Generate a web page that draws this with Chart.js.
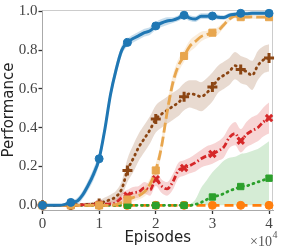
<!DOCTYPE html>
<html>
<head>
<meta charset="utf-8">
<script src="https://cdn.jsdelivr.net/npm/chart.js@4"></script>
<style>
  html, body { margin: 0; padding: 0; background: #fff; }
  #wrap { width: 281px; height: 249px; }
</style>
</head>
<body>
<div id="wrap"><canvas id="myChart" width="281" height="249"></canvas></div>
<script>
// episodes, one sample every 1000
const episodes = [0,1000,2000,3000,4000,5000,6000,7000,8000,9000,10000,11000,12000,13000,14000,15000,16000,17000,18000,19000,20000,
    21000,22000,23000,24000,25000,26000,27000,28000,29000,30000,31000,32000,33000,34000,35000,36000,37000,38000,39000,40000];

const blueMean = [0,0,0,0,0.005,0.015,0.02,0.05,0.10,0.16,0.24,0.39,0.57,0.70,0.80,0.84,0.86,0.875,0.89,0.90,0.925,
    0.94,0.95,0.955,0.965,0.98,0.965,0.96,0.975,0.975,0.976,0.97,0.968,0.98,0.985,0.99,0.988,0.99,0.99,0.99,0.99];
const blueSpread = [0.005,0.005,0.005,0.005,0.008,0.01,0.015,0.02,0.025,0.03,0.03,0.03,0.03,0.03,0.025,0.02,0.02,0.02,0.02,0.02,0.02,
    0.02,0.02,0.015,0.015,0.015,0.015,0.015,0.015,0.015,0.015,0.012,0.012,0.012,0.01,0.01,0.01,0.01,0.01,0.01,0.01];

const orangeMean = [0,0,0,0,0,0,0,0,0,0,0,0,0,0,0,0,0,0,0,0,0,0,0,0,0,0,0,0,0,0,0,0,0,0,0,0,0,0,0,0,0];

const lightMean = [0,0,0,0,0,0,0,0,0,0,0,0,0,0.005,0.015,0.03,0.04,0.05,0.07,0.11,0.18,
    0.30,0.48,0.63,0.72,0.77,0.82,0.845,0.87,0.88,0.89,0.90,0.93,0.96,0.975,0.97,0.97,0.972,0.97,0.97,0.97];
const lightSpread = [0,0,0,0,0,0,0,0,0,0,0,0,0,0.005,0.01,0.015,0.02,0.02,0.025,0.03,0.035,
    0.04,0.04,0.04,0.035,0.03,0.03,0.03,0.025,0.02,0.02,0.02,0.015,0.012,0.01,0.01,0.01,0.01,0.01,0.01,0.01];

const brownMean = [0,0,0,0,0,0.002,0.003,0.004,0.005,0.007,0.01,0.02,0.03,0.045,0.085,0.18,0.24,0.30,0.345,0.39,0.445,
    0.47,0.49,0.51,0.53,0.56,0.575,0.57,0.56,0.58,0.61,0.65,0.67,0.69,0.72,0.70,0.69,0.67,0.72,0.75,0.76];
const brownSpread = [0.003,0.003,0.003,0.003,0.004,0.005,0.006,0.008,0.01,0.012,0.015,0.02,0.025,0.03,0.04,0.06,0.07,0.07,0.07,0.07,0.07,
    0.07,0.07,0.07,0.07,0.07,0.07,0.075,0.075,0.075,0.075,0.07,0.07,0.07,0.07,0.07,0.07,0.075,0.075,0.07,0.07];

const redMean = [0,0,0,0,0,0,0,0.002,0.003,0.004,0.005,0.006,0.008,0.015,0.04,0.05,0.065,0.07,0.09,0.08,0.135,
    0.10,0.085,0.12,0.18,0.193,0.205,0.22,0.24,0.255,0.265,0.28,0.30,0.35,0.37,0.333,0.365,0.385,0.40,0.43,0.45];
const redSpread = [0.002,0.002,0.002,0.002,0.003,0.003,0.004,0.005,0.006,0.008,0.01,0.012,0.015,0.02,0.025,0.03,0.03,0.03,0.03,0.03,0.035,
    0.035,0.035,0.04,0.04,0.04,0.04,0.045,0.045,0.05,0.05,0.05,0.055,0.055,0.06,0.06,0.065,0.07,0.07,0.075,0.08];

const greenMean = [0,0,0,0,0,0,0,0,0,0,0,0,0,0,0,0,0,0,0,0,0,
    0,0,0,0,0,0,0.005,0.015,0.03,0.043,0.05,0.06,0.075,0.085,0.097,0.10,0.11,0.12,0.13,0.14];
const greenUpper = [0,0,0,0,0,0,0,0,0,0,0,0,0,0,0,0,0,0,0,0,0,
    0,0,0,0,0,0.005,0.03,0.09,0.13,0.17,0.20,0.23,0.245,0.25,0.265,0.27,0.28,0.29,0.31,0.33];

const yTicks = [0, 0.2, 0.4, 0.6, 0.8, 1.0];
const xTicks = [0, 10000, 20000, 30000, 40000];

const pts = (arr) => episodes.map((x, i) => ({ x: x, y: arr[i] }));
const markEvery = (r) => (ctx) => (ctx.dataIndex % 5 === 0 ? r : 0);

const mainLine = (label, values, color, dash, pointStyle, radius, opts) => Object.assign({
    label: label,
    data: pts(values),
    borderColor: color,
    backgroundColor: color,
    borderWidth: 2.8,
    borderDash: dash,
    pointStyle: pointStyle,
    pointRadius: markEvery(radius),
    pointBorderWidth: 1,
    pointBorderColor: color,
    pointBackgroundColor: color,
    cubicInterpolationMode: 'monotone',
    fill: false,
    clip: false
}, opts || {});

const band = (lo, hi, fillColor, order) => ([
    { data: pts(lo), borderWidth: 0, pointRadius: 0, fill: false, order: order, cubicInterpolationMode: 'monotone' },
    { data: pts(hi), borderWidth: 0, pointRadius: 0, fill: '-1', backgroundColor: fillColor, order: order, cubicInterpolationMode: 'monotone' }
]);

const lowOf = (m, s) => m.map((v, i) => v - s[i]);
const highOf = (m, s) => m.map((v, i) => v + s[i]);

const frame = {
    id: 'frame',
    beforeDatasetsDraw(chart) {
        const a = chart.chartArea;
        const c = chart.ctx;
        c.save();
        c.strokeStyle = '#cccccc';
        c.lineWidth = 1;
        c.beginPath();
        c.moveTo(a.left, a.top + 0.5);
        c.lineTo(a.right - 0.5, a.top + 0.5);
        c.lineTo(a.right - 0.5, a.bottom);
        c.stroke();
        c.restore();
    },
    afterDraw(chart) {
        const c = chart.ctx;
        c.save();
        c.fillStyle = '#555';
        c.textAlign = 'right';
        c.textBaseline = 'alphabetic';
        c.font = '14px "Liberation Serif"';
        c.fillText('\u00d710', 272, 246);
        c.textAlign = 'left';
        c.font = '10px "Liberation Serif"';
        c.fillText('4', 272.5, 238);
        c.restore();
    }
};

const datasets = [].concat(
    band(lowOf(blueMean, blueSpread), highOf(blueMean, blueSpread), 'rgba(31,119,180,0.25)', 20),
    band(lowOf(lightMean, lightSpread), highOf(lightMean, lightSpread), 'rgba(232,166,78,0.2)', 21),
    band(lowOf(brownMean, brownSpread), highOf(brownMean, brownSpread), 'rgba(139,69,19,0.2)', 22),
    band(lowOf(redMean, redSpread), highOf(redMean, redSpread), 'rgba(214,39,40,0.2)', 23),
    band(greenMean.map(() => 0), greenUpper, 'rgba(44,160,44,0.2)', 24),
    [
        mainLine('A', blueMean, '#1f77b4', [], 'circle', 4, { order: 1, borderWidth: 3 }),
        mainLine('B', orangeMean, '#ff7f0e', [9, 5], 'circle', 4, { order: 6 }),
        mainLine('C', lightMean, '#e8a64e', [10, 4], 'rect', 5, { order: 2 }),
        mainLine('D', brownMean, '#8b4513', [1, 4.5], 'cross', 5, { order: 4, borderCapStyle: 'round', pointBorderWidth: 3 }),
        mainLine('E', redMean, '#d62728', [6, 2.5, 1.5, 2.5], 'crossRot', 4.5, { order: 3, pointBorderWidth: 3 }),
        mainLine('F', greenMean, '#2ca02c', [1, 4.5], 'rect', 4.5, { order: 5, borderCapStyle: 'round' })
    ]
);

const ctx = document.getElementById('myChart').getContext('2d');
new Chart(ctx, {
    type: 'line',
    data: { datasets: datasets },
    plugins: [frame],
    options: {
        responsive: false,
        animation: false,
        parsing: true,
        layout: { padding: { top: 4, right: 1.7, left: 0, bottom: 0 } },
        plugins: {
            legend: { display: false },
            tooltip: { enabled: false }
        },
        scales: {
            x: {
                type: 'linear',
                min: 0,
                max: 40700,
                afterFit: (scale) => { scale.height = 39; },
                afterBuildTicks: (scale) => { scale.ticks = xTicks.map(v => ({ value: v })); },
                grid: { drawOnChartArea: false, drawTicks: true, tickLength: 4, tickColor: '#333', tickWidth: 1.3 },
                border: { display: true, color: '#aaaaaa', width: 1 },
                ticks: {
                    color: '#444',
                    padding: 1,
                    maxRotation: 0,
                    font: { family: '"Liberation Serif"', size: 15 },
                    callback: (v) => String(v / 10000)
                },
                title: {
                    display: true,
                    text: 'Episodes',
                    color: '#222',
                    padding: { top: 0, bottom: 2 },
                    font: { family: '"DejaVu Sans"', size: 15 }
                }
            },
            y: {
                type: 'linear',
                min: -0.024,
                max: 1.007,
                afterFit: (scale) => { scale.width = 42.5; },
                afterBuildTicks: (scale) => { scale.ticks = yTicks.map(v => ({ value: v })); },
                grid: { drawOnChartArea: false, drawTicks: true, tickLength: 4, tickColor: '#333', tickWidth: 1.3 },
                border: { display: true, color: '#aaaaaa', width: 1 },
                ticks: {
                    color: '#444',
                    padding: 1,
                    font: { family: '"Liberation Serif"', size: 15 },
                    callback: (v) => v.toFixed(1)
                },
                title: {
                    display: true,
                    text: 'Performance',
                    color: '#222',
                    padding: { top: 0, bottom: 0 },
                    font: { family: '"DejaVu Sans"', size: 15 }
                }
            }
        }
    }
});
</script>
</body>
</html>
